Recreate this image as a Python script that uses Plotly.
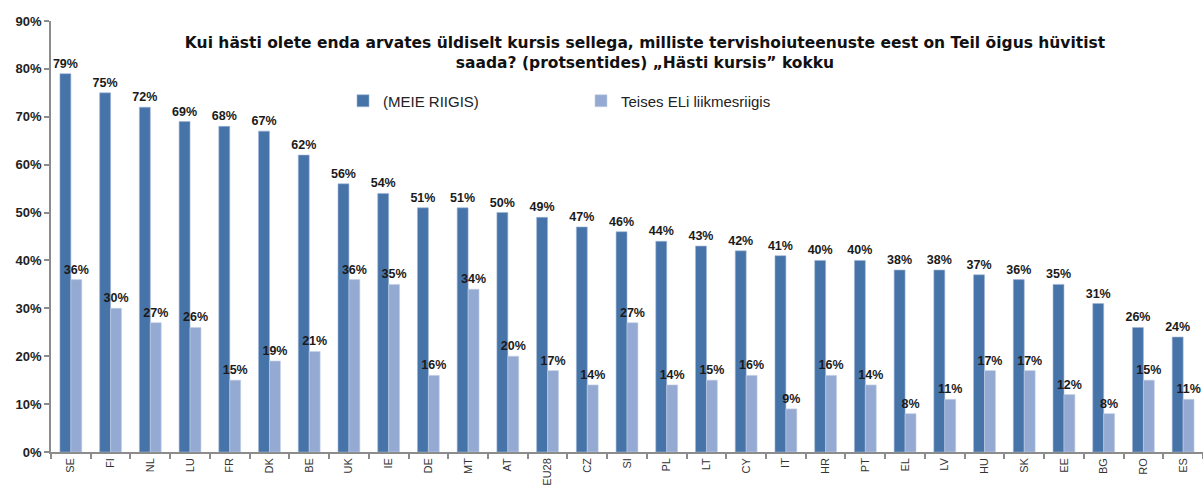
import plotly.graph_objects as go

countries = ["SE", "FI", "NL", "LU", "FR", "DK", "BE", "UK", "IE", "DE", "MT", "AT", "EU28", "CZ",
             "SI", "PL", "LT", "CY", "IT", "HR", "PT", "EL", "LV", "HU", "SK", "EE", "BG", "RO", "ES"]
own_country = [79, 75, 72, 69, 68, 67, 62, 56, 54, 51, 51, 50, 49, 47, 46, 44, 43, 42, 41, 40, 40,
               38, 38, 37, 36, 35, 31, 26, 24]
other_eu = [36, 30, 27, 26, 15, 19, 21, 36, 35, 16, 34, 20, 17, 14, 27, 14, 15, 16, 9, 16, 14,
            8, 11, 17, 17, 12, 8, 15, 11]
series_names = ["(MEIE RIIGIS)", "Teises ELi liikmesriigis"]
title_text = ("Kui hästi olete enda arvates üldiselt kursis sellega, milliste tervishoiuteenuste eest on Teil õigus hüvitist<br>"
              "saada? (protsentides) „Hästi kursis” kokku")

W, H = 1203, 488
L, R, T, B = 51, 0, 21, 36
pw, ph = W - L - R, H - T - B

label_font = dict(family="Liberation Sans, Arial", size=12.5, color="#1a1a1a")

fig = go.Figure()
fig.add_trace(go.Bar(
    x=countries, y=own_country, name=series_names[0],
    marker=dict(color="#4673A8", line=dict(color="#9fb6d6", width=0.6)),
    text=[f"<b>{v}%</b>" for v in own_country], textposition="outside",
    textfont=label_font, cliponaxis=False, constraintext="none",
))
fig.add_trace(go.Bar(
    x=countries, y=other_eu, name=series_names[1],
    marker=dict(color="#94AAD2", line=dict(color="#c3d0e6", width=0.6)),
    text=[f"<b>{v}%</b>" for v in other_eu], textposition="outside",
    textfont=label_font, cliponaxis=False, constraintext="none",
))

fig.update_layout(
    width=W, height=H,
    margin=dict(l=L, r=R, t=T, b=B, autoexpand=False),
    paper_bgcolor="white", plot_bgcolor="white",
    barmode="group", bargap=0.45, bargroupgap=0.0,
    showlegend=True,
    legend=dict(
        orientation="h", x=(343 - L) / pw, y=(H - B - 101) / ph,
        xanchor="left", yanchor="middle",
        font=dict(family="Liberation Sans, Arial", size=15, color="#222"),
        entrywidth=193, entrywidthmode="pixels",
        bgcolor="rgba(0,0,0,0)", traceorder="normal",
    ),
    title=dict(
        text=f"<b>{title_text}</b>", x=645 / W, y=1 - 48 / H,
        xref="container", yref="container", xanchor="center", yanchor="top",
        font=dict(family="DejaVu Sans, Verdana, sans-serif", size=15.5, color="#111"),
    ),
)

fig.update_xaxes(
    type="category", showline=True, linecolor="#8c8c8c", linewidth=1.5,
    ticks="outside", tickson="boundaries", ticklen=5, tickcolor="#8c8c8c", tickwidth=1.5,
    tickangle=-90, tickfont=dict(family="Liberation Sans, Arial", size=11, color="#333"),
    showgrid=False, automargin=False, zeroline=False,
)
fig.update_yaxes(
    range=[0, 90], dtick=10, ticksuffix="%", showline=True, linecolor="#8c8c8c", linewidth=1.5,
    ticks="outside", ticklen=5, tickcolor="#8c8c8c", tickwidth=1.5,
    tickfont=dict(family="Liberation Sans, Arial", size=13, color="#222", weight="bold"),
    showgrid=False, zeroline=False, automargin=False,
)
fig.write_html("out.html")
